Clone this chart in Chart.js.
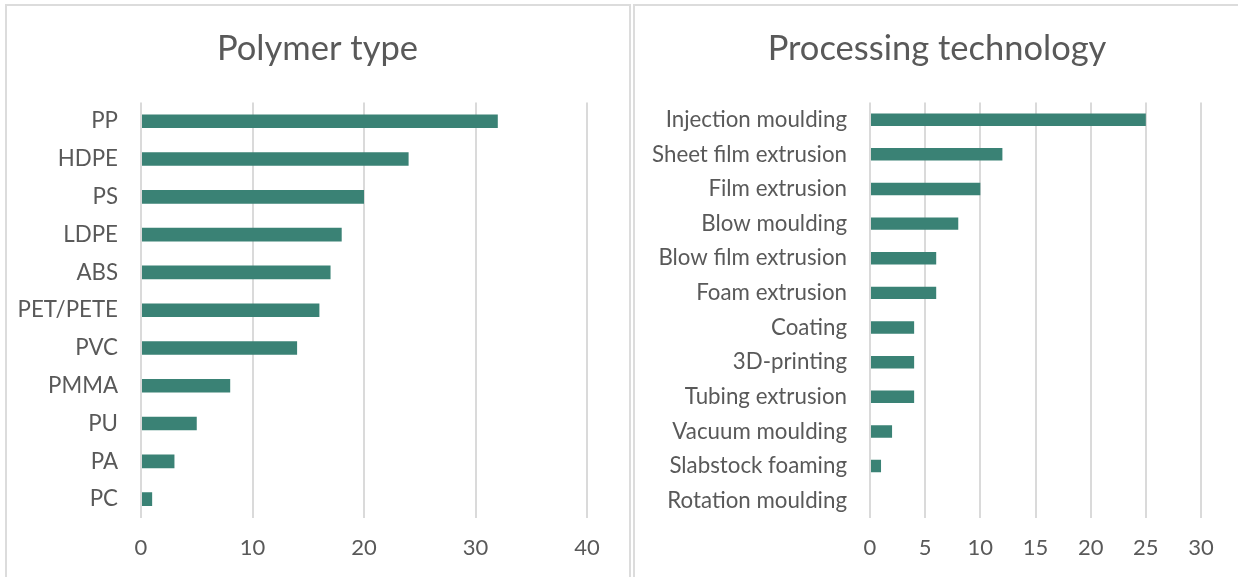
<!DOCTYPE html>
<html>
<head>
<meta charset="utf-8">
<script src="https://cdn.jsdelivr.net/npm/chart.js@4/dist/chart.umd.min.js"></script>
<style>
  html, body { margin: 0; padding: 0; background: #ffffff; }
  body { width: 1238px; height: 577px; position: relative; overflow: hidden; }
  .panel { position: absolute; top: 4px; height: 600px; border: 2px solid #dcdcdc; box-sizing: border-box; background: #fff; }
  canvas { position: absolute; }
</style>
</head>
<body>
<div class="panel" style="left:5px; width:626px;"></div>
<div class="panel" style="left:633px; width:620px;"></div>
<canvas id="polymer" width="623" height="567" style="left:6px; top:5px;"></canvas>
<canvas id="process" width="602" height="567" style="left:636px; top:5px;"></canvas>
<script>
// Polymer types and their counts
const polymerLabels = ['PP', 'HDPE', 'PS', 'LDPE', 'ABS', 'PET/PETE', 'PVC', 'PMMA', 'PU', 'PA', 'PC'];
const polymerCounts = [32, 24, 20, 18, 17, 16, 14, 8, 5, 3, 1];

// Processing technologies and their counts
const processLabels = ['Injection moulding', 'Sheet film extrusion', 'Film extrusion', 'Blow moulding',
  'Blow film extrusion', 'Foam extrusion', 'Coating', '3D-printing', 'Tubing extrusion',
  'Vacuum moulding', 'Slabstock foaming', 'Rotation moulding'];
const processCounts = [25, 12, 10, 8, 6, 6, 4, 4, 4, 2, 1, 0];

// Value axis ranges
const polymerAxis = { min: 0, max: 40, step: 10 };
const processAxis = { min: 0, max: 30, step: 5 };

const BAR = '#3a8275';
const TEXT = '#595959';
const GRID = '#dadada';
const FONT = 'Lato, "Open Sans", sans-serif';

function makeChart(id, title, labels, values, axis, yAxisWidth, rightGap) {
  return new Chart(document.getElementById(id), {
    type: 'bar',
    data: {
      labels: labels,
      datasets: [{ data: values, backgroundColor: BAR, borderWidth: 0,
                   categoryPercentage: 1.0, barPercentage: 0.36 }]
    },
    options: {
      indexAxis: 'y',
      responsive: false,
      animation: false,
      devicePixelRatio: 1,
      layout: { padding: 0 },
      plugins: {
        legend: { display: false },
        tooltip: { enabled: false },
        title: {
          display: true, text: title, color: TEXT,
          font: { family: FONT, size: 34.5, weight: 'normal', lineHeight: 1.2 },
          padding: { top: 23, bottom: 33 }
        }
      },
      scales: {
        x: {
          min: axis.min, max: axis.max,
          ticks: { stepSize: axis.step, color: TEXT, padding: 17,
                   font: { family: FONT, size: 22 } },
          grid: { color: GRID, lineWidth: 2, drawTicks: false },
          border: { display: false },
          afterFit: (s) => { s.height = 54; }
        },
        y: {
          ticks: { color: TEXT, padding: 23, font: { family: FONT, size: 22.3 } },
          grid: { display: false, drawTicks: false },
          border: { display: false },
          afterFit: (s) => { s.width = yAxisWidth; }
        },
        // empty right-hand strip so the plot ends short of the panel edge
        // while the title stays centred on the whole panel
        gap: {
          type: 'linear', position: 'right', axis: 'y',
          ticks: { display: false },
          grid: { display: false, drawTicks: false },
          border: { display: false },
          afterFit: (s) => { s.width = rightGap; }
        }
      }
    }
  });
}

makeChart('polymer', 'Polymer type', polymerLabels, polymerCounts, polymerAxis, 135, 42);
makeChart('process', 'Processing technology', processLabels, processCounts, processAxis, 234, 37);
</script>
</body>
</html>
